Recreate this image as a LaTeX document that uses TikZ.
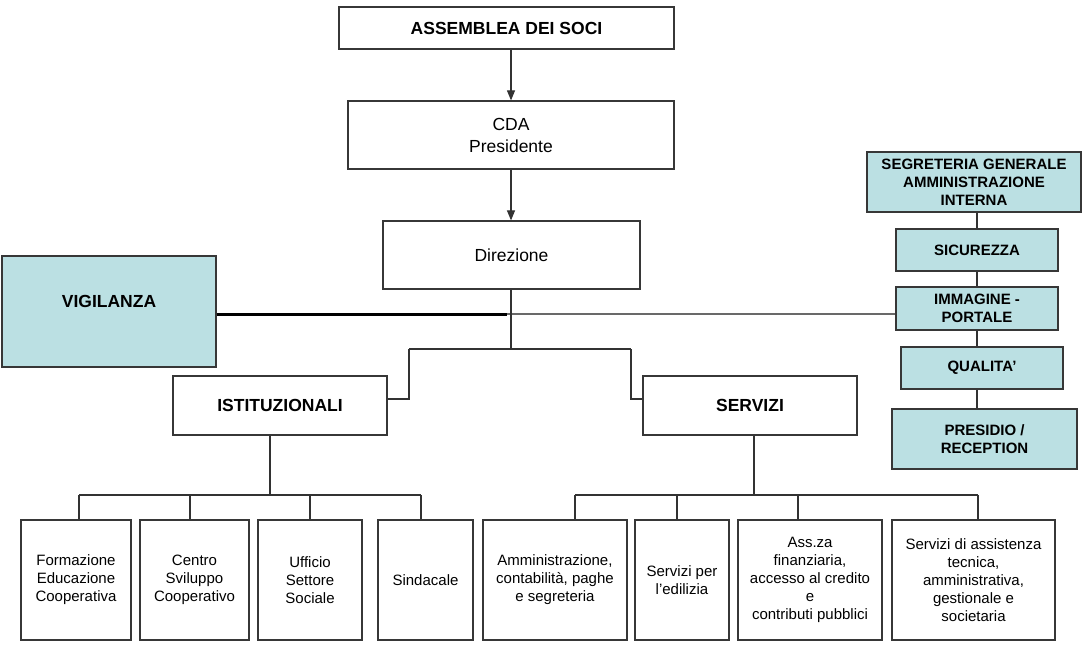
\documentclass[tikz,border=0pt]{standalone}
\usepackage{fontspec}
\setmainfont{Liberation Sans}
\usetikzlibrary{arrows.meta,calc}
\definecolor{teal}{RGB}{187,224,227}
\definecolor{bordc}{RGB}{55,55,55}
\definecolor{linec}{RGB}{50,50,50}
\definecolor{greyl}{RGB}{105,105,105}
\newcommand\bigfnt{\fontsize{17.5}{22}\selectfont}
\newcommand\smallfnt{\fontsize{15}{18}\selectfont}
\tikzset{
  bx/.style={draw=bordc, line width=1.2pt, inner sep=0pt, align=center, fill=white},
  tbx/.style={bx, fill=teal},
  topb/.style={bx, font=\bigfnt\bfseries},
  topr/.style={bx, font=\bigfnt},
  sidebx/.style={tbx, font=\smallfnt\bfseries},
  leafbx/.style={bx, font=\smallfnt, minimum height=120pt},
  conn/.style={draw=linec, line width=1.1pt},
  arr/.style={conn, -{Triangle[length=10pt,width=8pt]}},
}
\begin{document}
\begin{tikzpicture}[x=1pt,y=-1pt]
\useasboundingbox (0,0) rectangle (1084,650);
\fill[white] (0,0) rectangle (1084,650);

% top chain
\node[topb, minimum width=335pt, minimum height=42pt] (ass) at (506.5,28) {ASSEMBLEA DEI SOCI};
\node[topr, minimum width=326pt, minimum height=68pt] (cda) at (511,135) {CDA\\Presidente};
\node[topr, minimum width=257pt, minimum height=68pt] (dir) at (511.5,255) {Direzione};

% vigilanza
\node[tbx, font=\bigfnt\bfseries, minimum width=214pt, minimum height=111pt] (vig) at (109,311.5) {\raisebox{20pt}{VIGILANZA}};

% right column
\node[sidebx, minimum width=214pt, minimum height=60pt] (seg) at (974,182) {SEGRETERIA GENERALE\\AMMINISTRAZIONE\\INTERNA};
\node[sidebx, minimum width=162pt, minimum height=42pt] (sic) at (977,250) {SICUREZZA};
\node[sidebx, minimum width=162pt, minimum height=43pt] (imm) at (977,308.5) {IMMAGINE -\\PORTALE};
\node[sidebx, minimum width=162pt, minimum height=42pt] (qua) at (982,368) {QUALITA'};
\node[sidebx, minimum width=185pt, minimum height=60pt] (pre) at (984.5,439) {PRESIDIO /\\RECEPTION};

% second level
\node[topb, minimum width=214pt, minimum height=59pt] (ist) at (280,405.5) {ISTITUZIONALI};
\node[topb, minimum width=214pt, minimum height=59pt] (ser) at (750,405.5) {SERVIZI};

% leaves
\node[leafbx, minimum width=110pt] (l1) at (76,580) {Formazione\\Educazione\\Cooperativa};
\node[leafbx, minimum width=109pt] (l2) at (194.5,580) {Centro\\Sviluppo\\Cooperativo};
\node[leafbx, minimum width=104pt] (l3) at (310,580) {Ufficio\\Settore\\Sociale};
\node[leafbx, minimum width=95pt] (l4) at (425.5,580) {Sindacale};
\node[leafbx, minimum width=144pt] (l5) at (555,580) {Amministrazione,\\contabilità, paghe\\e segreteria};
\node[leafbx, minimum width=94pt] (l6) at (682,580) {Servizi per\\l'edilizia};
\node[leafbx, minimum width=144pt] (l7) at (810,580) {Ass.za\\finanziaria,\\accesso al credito\\e\\contributi pubblici};
\node[leafbx, minimum width=163pt] (l8) at (973.5,580) {Servizi di assistenza\\tecnica,\\amministrativa,\\gestionale e\\societaria};

% coordinates
\coordinate (dj) at (511,349);
\coordinate (lj) at (409,349);
\coordinate (rj) at (631,349);
\coordinate (lk) at (409,399);
\coordinate (rk) at (631,399);
\coordinate (vj) at (507,314);
\coordinate (colx) at (977,0);
\coordinate (ib) at (270,495);
\coordinate (sb) at (754,495);
\coordinate (d1) at (79,495);
\coordinate (d2) at (190,495);
\coordinate (d3) at (310,495);
\coordinate (d4) at (421,495);
\coordinate (d5) at (575,495);
\coordinate (d6) at (677,495);
\coordinate (d7) at (798,495);
\coordinate (d8) at (978,495);

% arrows
\draw[arr] (ass.south -| cda.north) -- (cda.north);
\draw[arr] (cda.south) -- (dir.north -| cda.south);

% vigilanza line
\draw[black, line width=3pt] (vig.east |- vj) -- (vj);
\draw[greyl, line width=1.1pt] (vj) -- (vj -| imm.west);

% right column links
\draw[conn] (seg.south -| colx) -- (sic.north -| colx);
\draw[conn] (sic.south -| colx) -- (imm.north -| colx);
\draw[conn] (imm.south -| colx) -- (qua.north -| colx);
\draw[conn] (qua.south -| colx) -- (pre.north -| colx);

% direzione tree
\draw[conn] (dir.south -| dj) -- (dj);
\draw[conn] (lj) -- (rj);
\draw[conn] (lj) -- (lk) -- (lk -| ist.east);
\draw[conn] (rj) -- (rk) -- (rk -| ser.west);

% istituzionali tree
\draw[conn] (ist.south -| ib) -- (ib);
\draw[conn] (d1) -- (d4);
\foreach \d/\l in {d1/l1,d2/l2,d3/l3,d4/l4} \draw[conn] (\d) -- (\d |- \l.north);

% servizi tree
\draw[conn] (ser.south -| sb) -- (sb);
\draw[conn] (d5) -- (d8);
\foreach \d/\l in {d5/l5,d6/l6,d7/l7,d8/l8} \draw[conn] (\d) -- (\d |- \l.north);
\end{tikzpicture}
\end{document}
